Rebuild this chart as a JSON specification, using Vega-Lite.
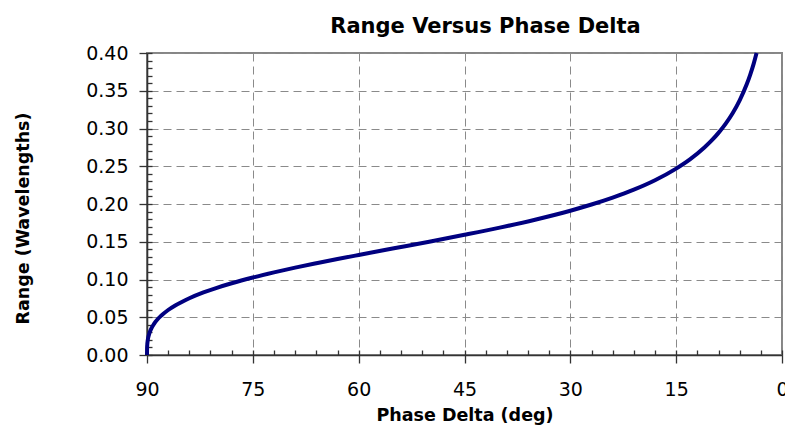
{
  "$schema": "https://vega.github.io/schema/vega-lite/v6.json",
  "width": 635,
  "height": 302,
  "autosize": "none",
  "padding": {"left": 147, "top": 53, "right": 3, "bottom": 71},
  "background": "white",
  "config": {
    "view": {"stroke": "#868686", "strokeWidth": 2},
    "font": "DejaVu Sans"
  },
  "title": {
    "text": "Range Versus Phase Delta",
    "font": "DejaVu Sans",
    "fontSize": 21,
    "fontWeight": "bold",
    "color": "black",
    "anchor": "middle",
    "frame": "group",
    "dx": 21,
    "dy": 30,
    "baseline": "alphabetic",
    "offset": 20
  },
  "data": {
    "values": [
      {"phase": 90, "range": 0},
      {"phase": 89.99, "range": 0.0089},
      {"phase": 89.95, "range": 0.0152},
      {"phase": 89.9, "range": 0.0192},
      {"phase": 89.7, "range": 0.0276},
      {"phase": 89.5, "range": 0.0328},
      {"phase": 89, "range": 0.0413},
      {"phase": 88.5, "range": 0.0473},
      {"phase": 88, "range": 0.0520},
      {"phase": 87, "range": 0.0596},
      {"phase": 86, "range": 0.0656},
      {"phase": 85, "range": 0.0706},
      {"phase": 84, "range": 0.0751},
      {"phase": 82, "range": 0.0828},
      {"phase": 80, "range": 0.0893},
      {"phase": 78, "range": 0.0950},
      {"phase": 75, "range": 0.1026},
      {"phase": 72, "range": 0.1094},
      {"phase": 69, "range": 0.1157},
      {"phase": 66, "range": 0.1215},
      {"phase": 63, "range": 0.1271},
      {"phase": 60, "range": 0.1325},
      {"phase": 55, "range": 0.1413},
      {"phase": 50, "range": 0.1501},
      {"phase": 45, "range": 0.1592},
      {"phase": 40, "range": 0.1687},
      {"phase": 35, "range": 0.1792},
      {"phase": 30, "range": 0.1911},
      {"phase": 27, "range": 0.1993},
      {"phase": 24, "range": 0.2085},
      {"phase": 21, "range": 0.2190},
      {"phase": 18, "range": 0.2315},
      {"phase": 15, "range": 0.2469},
      {"phase": 13, "range": 0.2594},
      {"phase": 11, "range": 0.2748},
      {"phase": 10, "range": 0.2838},
      {"phase": 9, "range": 0.2942},
      {"phase": 8, "range": 0.3061},
      {"phase": 7, "range": 0.3202},
      {"phase": 6, "range": 0.3373},
      {"phase": 5, "range": 0.3585},
      {"phase": 4.5, "range": 0.3714},
      {"phase": 4, "range": 0.3863},
      {"phase": 3.605, "range": 0.4}
    ]
  },
  "layer": [
    {
      "mark": {"type": "line", "opacity": 0},
      "encoding": {
        "x": {
          "field": "phase", "type": "quantitative",
          "scale": {"domain": [0, 90], "reverse": true, "nice": false, "zero": false},
          "axis": {
            "orient": "bottom",
            "values": [0,3,6,9,12,15,18,21,24,27,30,33,36,39,42,45,48,51,54,57,60,63,66,69,72,75,78,81,84,87,90],
            "labels": false, "grid": false, "domain": false, "title": null,
            "tickSize": -5, "tickColor": "#333333", "tickWidth": 1.3
          }
        },
        "y": {
          "field": "range", "type": "quantitative",
          "scale": {"domain": [0, 0.4], "nice": false},
          "axis": {
            "orient": "left",
            "values": [0,0.01,0.02,0.03,0.04,0.05,0.06,0.07,0.08,0.09,0.1,0.11,0.12,0.13,0.14,0.15,0.16,0.17,0.18,0.19,0.2,0.21,0.22,0.23,0.24,0.25,0.26,0.27,0.28,0.29,0.3,0.31,0.32,0.33,0.34,0.35,0.36,0.37,0.38,0.39,0.4],
            "labels": false, "grid": false, "domain": false, "title": null,
            "tickSize": -5, "tickColor": "#333333", "tickWidth": 1.3
          }
        }
      }
    },
    {
      "mark": {"type": "line", "color": "#000080", "strokeWidth": 4, "interpolate": "monotone"},
      "encoding": {
        "x": {
          "field": "phase", "type": "quantitative",
          "scale": {"domain": [0, 90], "reverse": true, "nice": false, "zero": false},
          "axis": {
            "orient": "bottom",
            "values": [90, 75, 60, 45, 30, 15, 0],
            "labelFlush": false,
            "labelFont": "DejaVu Sans", "labelFontSize": 19, "labelColor": "black",
            "labelPadding": 17,
            "grid": true, "gridDash": [8, 5], "gridColor": "#8a8a8a", "gridWidth": 1,
            "domain": true, "domainColor": "#333333", "domainWidth": 1.6,
            "tickSize": 8, "tickColor": "#333333", "tickWidth": 1.3,
            "title": "Phase Delta (deg)",
            "titleFont": "DejaVu Sans", "titleFontSize": 17.5, "titleFontWeight": "bold", "titleColor": "black",
            "titleBaseline": "alphabetic", "titleY": 65
          }
        },
        "y": {
          "field": "range", "type": "quantitative",
          "scale": {"domain": [0, 0.4], "nice": false},
          "axis": {
            "orient": "left",
            "values": [0, 0.05, 0.1, 0.15, 0.2, 0.25, 0.3, 0.35, 0.4],
            "format": ".2f",
            "labelFlush": false,
            "labelFont": "DejaVu Sans", "labelFontSize": 19, "labelColor": "black",
            "labelPadding": 11, "labelBaseline": "middle",
            "grid": true, "gridDash": [8, 5], "gridColor": "#8a8a8a", "gridWidth": 1,
            "domain": true, "domainColor": "#333333", "domainWidth": 1.6,
            "tickSize": 8, "tickColor": "#333333", "tickWidth": 1.3,
            "title": "Range (Wavelengths)",
            "titleFont": "DejaVu Sans", "titleFontSize": 17.5, "titleFontWeight": "bold", "titleColor": "black",
            "titleAngle": -90, "titleBaseline": "alphabetic", "titleAlign": "center",
            "titleX": -119, "titleY": 165
          }
        }
      }
    }
  ],
  "resolve": {"axis": {"x": "independent", "y": "independent"}}
}
